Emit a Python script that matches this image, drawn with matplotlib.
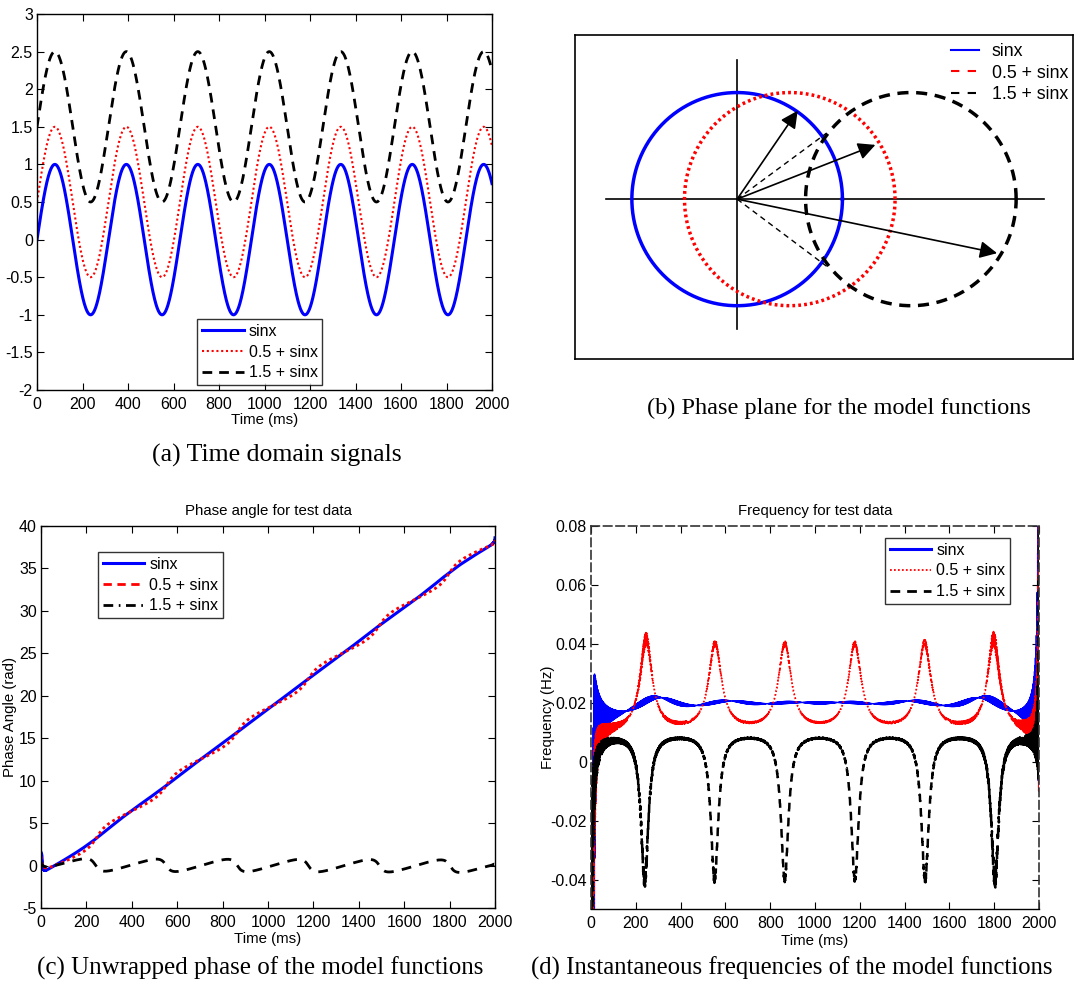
import numpy as np
import matplotlib
matplotlib.use('Agg')
import matplotlib.pyplot as plt
from matplotlib.lines import Line2D

plt.rcParams['font.family'] = ['Liberation Sans', 'DejaVu Sans']

# ---------------- data ----------------
T_END_MS = 2000                 # time span (ms)
OMEGA_RAD_PER_MS = 1.0 / 50.0   # sin period read as ~314 ms
offsets = [0.0, 0.5, 1.5]
series_labels = ['sinx', '0.5 + sinx', '1.5 + sinx']
series_colors = ['#0000ff', '#ff0000', '#000000']

x_ticks = [0, 200, 400, 600, 800, 1000, 1200, 1400, 1600, 1800, 2000]
a_yticks = [-2, -1.5, -1, -0.5, 0, 0.5, 1, 1.5, 2, 2.5, 3]
c_yticks = [-5, 0, 5, 10, 15, 20, 25, 30, 35, 40]
d_yticks = [-0.04, -0.02, 0, 0.02, 0.04, 0.06, 0.08]
d_ylim = (-0.05, 0.08)

# phase plane (b)
circle_centers = [0.0, 0.5, 1.65]
circle_radius = 1.0
arrow_tips = [(0.575, 0.83), (1.313, 0.509), (2.469, -0.507)]
dashed_tips = [(0.85, 0.62), (0.85, -0.63)]
h_axis_span = (-1.25, 2.91)
v_axis_span = (-1.22, 1.31)
b_xlim = (-1.54, 3.19)
b_ylim = (-1.50, 1.54)

captions = ['(a) Time domain signals',
            '(b) Phase plane for the model functions',
            '(c) Unwrapped phase of the model functions',
            '(d) Instantaneous frequencies of the model functions']

# ---------------- model signals & analytic signal ----------------
t = np.arange(0, T_END_MS + 1, 1.0)
signals = [off + np.sin(OMEGA_RAD_PER_MS * t) for off in offsets]


def analytic(x):
    n = len(x)
    X = np.fft.fft(x)
    h = np.zeros(n)
    if n % 2 == 0:
        h[0] = 1
        h[n // 2] = 1
        h[1:n // 2] = 2
    else:
        h[0] = 1
        h[1:(n + 1) // 2] = 2
    return np.fft.ifft(X * h)


phases = [np.unwrap(np.angle(analytic(s))) for s in signals]
freqs = [np.diff(p) / np.diff(t) for p in phases]

# ---------------- figure ----------------
W, H = 1087, 986
fig = plt.figure(figsize=(W / 100, H / 100), dpi=100)


def rect(l, tp, r, b):
    return [l / W, 1 - b / H, (r - l) / W, (b - tp) / H]


TICK_FS = 11.5
TITLE_FS = 10.8


def style_axes(ax, yt):
    ax.tick_params(direction='in', length=5, width=0.8, top=True, right=True,
                   labelsize=TICK_FS, pad=3)
    ax.tick_params(axis='x', pad=5)
    ax.set_xticks(x_ticks)
    ax.set_xticklabels(['%g' % v for v in x_ticks])
    ax.set_yticks(yt)
    ax.set_yticklabels(['%g' % v for v in yt])
    for s in ax.spines.values():
        s.set_linewidth(1.0)


def legend(ax, handles, loc, anchor):
    lg = ax.legend(handles=handles, loc=loc, bbox_to_anchor=anchor,
                   borderaxespad=0, fontsize=TICK_FS, frameon=True, fancybox=False,
                   handlelength=2.6, handletextpad=0.3, labelspacing=0.36,
                   borderpad=0.3)
    lg.get_frame().set_edgecolor('black')
    lg.get_frame().set_linewidth(1.0)
    return lg


# ---- (a) ----
axa = fig.add_axes(rect(37, 14, 492, 390))
axa.plot(t, signals[0], color=series_colors[0], lw=2.2, label=series_labels[0])
axa.plot(t, signals[1], color=series_colors[1], lw=1.5, ls=(0, (1, 1.3)), label=series_labels[1])
axa.plot(t, signals[2], color=series_colors[2], lw=2.0, ls=(0, (3.5, 2.5)), label=series_labels[2])
axa.set_xlim(0, T_END_MS)
axa.set_ylim(-2, 3)
style_axes(axa, a_yticks)
axa.set_xlabel('Time (ms)', fontsize=TITLE_FS)
axa.xaxis.set_label_coords(0.5, -0.06)
legend(axa, axa.get_lines(), 'lower center', (0.49, 0.013))

# ---- (b) ----
axb = fig.add_axes(rect(575, 35, 1073, 359))
axb.set_xlim(*b_xlim)
axb.set_ylim(*b_ylim)
axb.set_xticks([])
axb.set_yticks([])
for s in axb.spines.values():
    s.set_linewidth(1.2)
axb.plot(h_axis_span, [0, 0], color='k', lw=1.2)
axb.plot([0, 0], v_axis_span, color='k', lw=1.2)
ang = np.linspace(0, 2 * np.pi, 500)
axb.plot(circle_centers[0] + circle_radius * np.cos(ang), circle_radius * np.sin(ang),
         color=series_colors[0], lw=2.5)
axb.plot(circle_centers[1] + circle_radius * np.cos(ang), circle_radius * np.sin(ang),
         color=series_colors[1], lw=2.5, ls=(0, (0.8, 0.9)))
axb.plot(circle_centers[2] + circle_radius * np.cos(ang), circle_radius * np.sin(ang),
         color=series_colors[2], lw=2.5, ls=(0, (3.2, 2.2)))
for tip in arrow_tips:
    axb.annotate('', xy=tip, xytext=(0, 0),
                 arrowprops=dict(arrowstyle='-|>', color='k', lw=1.2,
                                 mutation_scale=26, shrinkA=0, shrinkB=0))
for tip in dashed_tips:
    axb.plot([0, tip[0]], [0, tip[1]], color='k', lw=1.0, ls=(0, (4, 3)))
hb = [Line2D([], [], color=series_colors[0], lw=1.5),
      Line2D([], [], color=series_colors[1], lw=1.5, ls=(0, (4, 4))),
      Line2D([], [], color=series_colors[2], lw=1.5, ls=(0, (4, 4)))]
axb.legend(hb, series_labels, loc='upper right', bbox_to_anchor=(0.99, 0.975),
           borderaxespad=0, fontsize=12.8, frameon=False, handlelength=1.6,
           handletextpad=0.7, labelspacing=0.25, borderpad=0)

# ---- (c) ----
axc = fig.add_axes(rect(41, 526, 495, 908))
axc.plot(t, phases[0], color=series_colors[0], lw=2.2)
axc.plot(t, phases[1], color=series_colors[1], lw=2.0, ls=(0, (1, 1.2)))
axc.plot(t, phases[2], color=series_colors[2], lw=2.0, ls=(0, (3.5, 3)))
axc.set_xlim(0, T_END_MS)
axc.set_ylim(-5, 40)
style_axes(axc, c_yticks)
axc.set_title('Phase angle for test data', fontsize=TITLE_FS, pad=8)
axc.set_xlabel('Time (ms)', fontsize=TITLE_FS)
axc.xaxis.set_label_coords(0.5, -0.063)
axc.set_ylabel('Phase Angle (rad)', fontsize=TITLE_FS)
axc.yaxis.set_label_coords(-0.052, 0.5)
hc = [Line2D([], [], color=series_colors[0], lw=2.2, label=series_labels[0]),
      Line2D([], [], color=series_colors[1], lw=2.0, ls=(0, (3, 2)), label=series_labels[1]),
      Line2D([], [], color=series_colors[2], lw=2.0, ls=(0, (3.5, 2, 0.6, 2)), label=series_labels[2])]
legend(axc, hc, 'upper left', (0.1256, 0.932))

# ---- (d) ----
axd = fig.add_axes(rect(591, 526, 1039, 909))
axd.plot(t[1:], freqs[0], color=series_colors[0], lw=1.0)
axd.plot(t[1:], freqs[1], color=series_colors[1], lw=1.3, ls=(0, (1, 1.2)))
axd.plot(t[1:], freqs[2], color=series_colors[2], lw=1.8, ls=(0, (3.5, 2.5)))
axd.set_xlim(0, T_END_MS)
axd.set_ylim(*d_ylim)
style_axes(axd, d_yticks)
for side in ['top', 'left', 'right']:
    axd.spines[side].set_linestyle((0, (5, 2.5)))
    axd.spines[side].set_color('#333333')
    axd.spines[side].set_linewidth(1.2)
axd.set_title('Frequency for test data', fontsize=TITLE_FS, pad=8)
axd.set_xlabel('Time (ms)', fontsize=TITLE_FS)
axd.xaxis.set_label_coords(0.5, -0.065)
axd.set_ylabel('Frequency (Hz)', fontsize=TITLE_FS)
axd.yaxis.set_label_coords(-0.080, 0.5)
hd = [Line2D([], [], color=series_colors[0], lw=2.2, label=series_labels[0]),
      Line2D([], [], color=series_colors[1], lw=1.3, ls=(0, (1, 1.2)), label=series_labels[1]),
      Line2D([], [], color=series_colors[2], lw=2.0, ls=(0, (3.5, 2.5)), label=series_labels[2])]
legend(axd, hd, 'upper right', (0.935, 0.969))

# ---- captions ----
cap_kw = dict(family=['Liberation Serif', 'DejaVu Serif'], ha='center', va='center')
fig.text(277 / W, 1 - 455 / H, captions[0], fontsize=18.5, **cap_kw)
fig.text(839 / W, 1 - 408 / H, captions[1], fontsize=17.5, **cap_kw)
fig.text(260 / W, 1 - 968 / H, captions[2], fontsize=18, **cap_kw)
fig.text(792 / W, 1 - 968 / H, captions[3], fontsize=17.8, **cap_kw)

fig.savefig('out.png', dpi=100)
